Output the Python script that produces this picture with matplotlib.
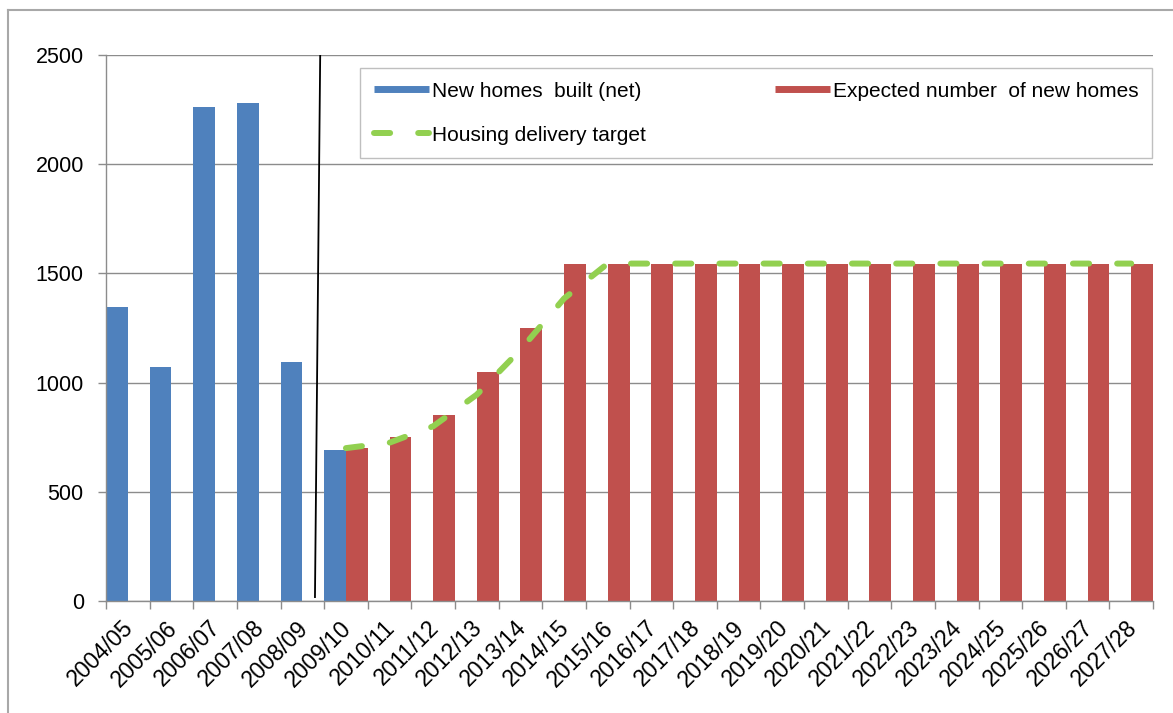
import numpy as np
import matplotlib
matplotlib.use("Agg")
import matplotlib.pyplot as plt
from matplotlib.lines import Line2D
from matplotlib.transforms import ScaledTranslation

plt.rcParams['font.family'] = ['Liberation Sans', 'DejaVu Sans']

categories = ["2004/05", "2005/06", "2006/07", "2007/08", "2008/09", "2009/10",
              "2010/11", "2011/12", "2012/13", "2013/14", "2014/15", "2015/16",
              "2016/17", "2017/18", "2018/19", "2019/20", "2020/21", "2021/22",
              "2022/23", "2023/24", "2024/25", "2025/26", "2026/27", "2027/28"]
nan = np.nan
built = [1345, 1070, 2260, 2280, 1095, 690] + [nan] * 18
expected = [nan] * 5 + [700, 750, 850, 1050, 1250] + [1545] * 14
target = [nan] * 5 + [700, 725, 800, 945, 1150, 1385] + [1545] * 13
yticks = [0, 500, 1000, 1500, 2000, 2500]

BLUE = '#4F81BD'
RED = '#C0504D'
GREEN = '#92D050'
GRID = '#8c8c8c'

W, H = 1173, 713
fig = plt.figure(figsize=(W / 100, H / 100), dpi=100)
ax = fig.add_axes([106 / W, 1 - 601 / H, (1153 - 106) / W, (601 - 55) / H])

x = np.arange(len(categories))
ax.bar(x - 0.25, built, width=0.5, color=BLUE, zorder=2)
ax.bar(x + 0.25, expected, width=0.5, color=RED, zorder=2)
ax.plot(x, target, color=GREEN, lw=4.3, dashes=(2.7, 4.7),
        dash_capstyle='round', solid_capstyle='round', zorder=3)

# divider line between actual and expected
ax.plot([4.41, 4.29], [2500, 18], color='black', lw=1.3, zorder=4)

ax.set_xlim(-0.5, len(categories) - 0.5)
ax.set_ylim(0, 2500)
ax.set_yticks(yticks)
ax.set_yticklabels([str(v) for v in yticks])
ax.yaxis.grid(True, color=GRID, lw=1.0, zorder=0)
ax.set_axisbelow(True)

ax.set_xticks(x)
ax.set_xticklabels(categories, rotation=45, ha='right', rotation_mode='anchor')
ax.set_xticks(np.arange(len(categories) + 1) - 0.5, minor=True)
ax.tick_params(axis='x', which='major', length=0, pad=11, labelsize=16.5)
ax.tick_params(axis='x', which='minor', length=6, color=GRID, width=1.0)
ax.tick_params(axis='y', length=6, color=GRID, width=1.0, pad=10, labelsize=15.5)
off = ScaledTranslation(-6 / 100, 0, fig.dpi_scale_trans)
for lab in ax.get_xticklabels():
    lab.set_transform(lab.get_transform() + off)

for s in ['top', 'right']:
    ax.spines[s].set_visible(False)
for s in ['left', 'bottom']:
    ax.spines[s].set_color(GRID)
    ax.spines[s].set_linewidth(1.0)

handles = [Line2D([], [], color=BLUE, lw=5, solid_capstyle='butt'),
           Line2D([], [], color=GREEN, lw=4.3, dashes=(2.7, 4.7), dash_capstyle='round'),
           Line2D([], [], color=RED, lw=5, solid_capstyle='butt')]
labels = ["New homes  built (net)", "Housing delivery target", "Expected number  of new homes"]
leg = ax.legend(handles, labels, ncol=2, loc='upper left',
                bbox_to_anchor=((360 - 106) / 1047, (601 - 68) / 546),
                fontsize=15, frameon=True, fancybox=False, handlelength=2.64,
                handletextpad=0.15, columnspacing=6.2, labelspacing=1.2,
                borderpad=0.65, borderaxespad=0)
leg.get_frame().set_edgecolor('#b0b0b0')
leg.get_frame().set_linewidth(1.0)

# outer chart border (top and left visible)
fig.add_artist(Line2D([8 / W, 8 / W], [0, 1 - 10 / H], color='#a8a8a8', lw=1.5))
fig.add_artist(Line2D([8 / W, 1], [1 - 10 / H, 1 - 10 / H], color='#a8a8a8', lw=1.5))

fig.savefig('out.png', dpi=100)
